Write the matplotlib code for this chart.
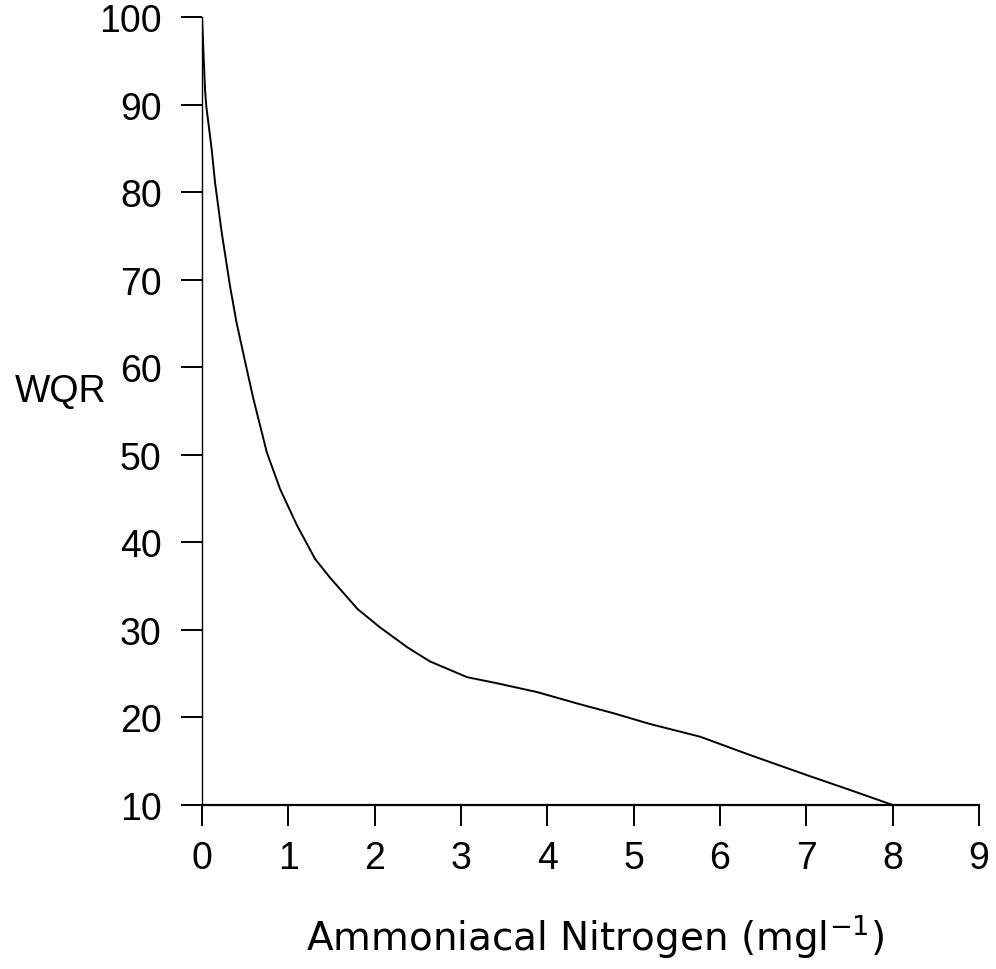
import matplotlib.pyplot as plt
import numpy as np

# WQR curve for ammoniacal nitrogen
nh3 = [0, 0.035, 0.05, 0.112, 0.151, 0.228, 0.324, 0.40, 0.518, 0.595,
       0.75, 0.904, 1.097, 1.31, 1.48, 1.8, 2.06, 2.38, 2.64, 3.07, 3.42,
       3.88, 4.38, 4.76, 5.19, 5.77, 6.35, 7.01, 7.54, 8.0]
wqr = [100, 91.7, 89.8, 84.9, 81.1, 75.4, 69.3, 65.1, 59.8, 56.4,
       50.3, 46.1, 42.0, 38.1, 36.0, 32.4, 30.3, 28.0, 26.4, 24.6, 23.9,
       22.9, 21.5, 20.5, 19.25, 17.8, 15.7, 13.4, 11.6, 10]
xticks = list(range(0, 10))
yticks = list(range(10, 101, 10))

plt.rcParams['font.family'] = ['Liberation Sans', 'DejaVu Sans']
fig = plt.figure(figsize=(9.96, 9.70), dpi=100)
ax = fig.add_axes([202/996, 1 - 806/970, (979 - 202)/996, (806 - 18)/970])

ax.plot(nh3, wqr, color='black', lw=1.4)

ax.set_xlim(0, 9)
ax.set_ylim(10, 100)
ax.set_xticks(xticks)
ax.set_yticks(yticks)
ax.spines['top'].set_visible(False)
ax.spines['right'].set_visible(False)
ax.spines['left'].set_linewidth(1.0)
ax.spines['bottom'].set_linewidth(1.6)
ax.tick_params(axis='both', direction='out', length=15, width=1.4,
               labelsize=27, color='black')
ax.tick_params(axis='y', pad=14)
ax.tick_params(axis='x', pad=10)

# the plotter lettering is wide, DejaVu comes closer for the long label
fig.text(595/996, 1 - 950/970, r'Ammoniacal Nitrogen (mgl$^{-1}$)',
         fontsize=28, family='DejaVu Sans', ha='center', va='baseline')
fig.text(15/996, 1 - 392/970, 'WQR', fontsize=27, ha='left', va='center')

fig.savefig('out.png', dpi=100)
